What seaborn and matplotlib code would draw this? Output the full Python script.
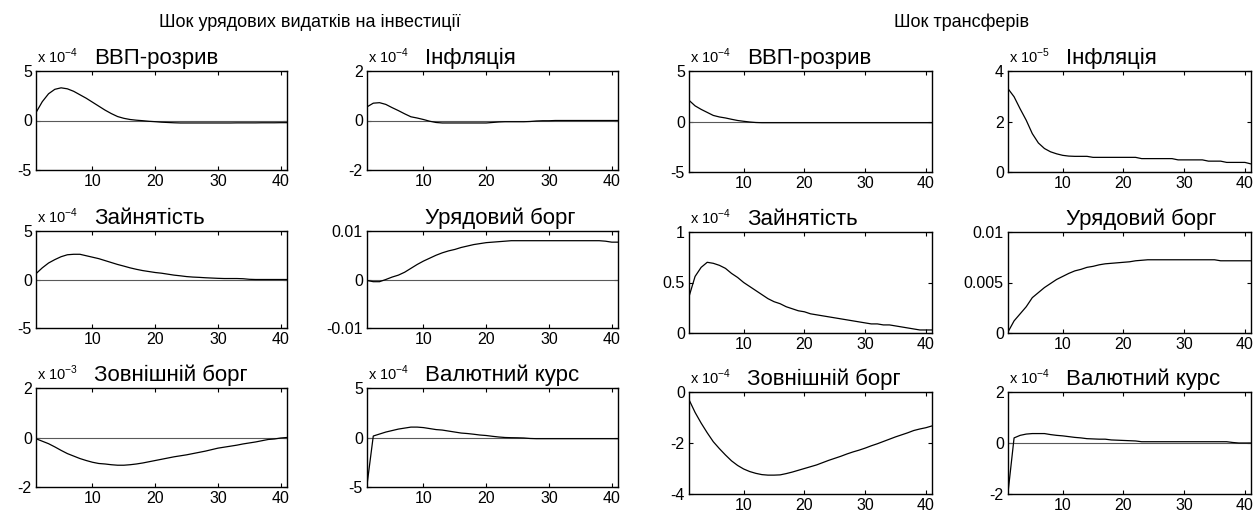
import pandas as pd
import seaborn as sns
import matplotlib.pyplot as plt

periods = list(range(1, 42))

# Шок урядових видатків на інвестиції
gdp_inv = [0.8, 1.9, 2.7, 3.15, 3.3, 3.2, 2.95, 2.6, 2.25, 1.85,
           1.45, 1.05, 0.7, 0.4, 0.22, 0.1, 0.03, -0.02, -0.08, -0.12,
           -0.17, -0.2, -0.23, -0.25, -0.25, -0.25, -0.25, -0.25, -0.25, -0.25,
           -0.25, -0.25, -0.24, -0.24, -0.24, -0.24, -0.23, -0.23, -0.23, -0.22, -0.22]
inf_inv = [0.55, 0.7, 0.72, 0.65, 0.52, 0.4, 0.27, 0.15, 0.1, 0.04,
           -0.03, -0.08, -0.1, -0.1, -0.1, -0.1, -0.1, -0.1, -0.1, -0.1,
           -0.08, -0.06, -0.05, -0.05, -0.05, -0.05, -0.04, -0.02, -0.01, -0.01,
           0, 0, 0, 0, 0, 0, 0, 0, 0, 0, 0]
emp_inv = [0.6, 1.2, 1.7, 2.05, 2.35, 2.55, 2.6, 2.6, 2.45, 2.3,
           2.15, 1.95, 1.75, 1.55, 1.38, 1.2, 1.05, 0.92, 0.82, 0.72,
           0.65, 0.55, 0.45, 0.38, 0.3, 0.25, 0.22, 0.18, 0.15, 0.12,
           0.1, 0.1, 0.1, 0.08, 0.02, 0, 0, 0, 0, 0, 0]
debt_inv = [-0.0002, -0.00045, -0.00045, 0.0, 0.0005, 0.0009, 0.0015, 0.0023, 0.0031, 0.0038,
            0.0044, 0.005, 0.0055, 0.0059, 0.0062, 0.0066, 0.0069, 0.0072, 0.0074, 0.0076,
            0.0077, 0.0078, 0.0079] + [0.008] * 15 + [0.0079, 0.0077, 0.0077]
ext_inv = [-0.05, -0.15, -0.25, -0.38, -0.52, -0.65, -0.75, -0.85, -0.93, -1.0,
           -1.05, -1.07, -1.1, -1.12, -1.12, -1.1, -1.07, -1.03, -0.98, -0.93,
           -0.88, -0.83, -0.78, -0.74, -0.7, -0.65, -0.6, -0.55, -0.49, -0.43,
           -0.39, -0.35, -0.31, -0.26, -0.22, -0.18, -0.13, -0.08, -0.06, -0.02, 0.0]
fx_inv = [-4.8, 0.15, 0.35, 0.55, 0.7, 0.85, 0.95, 1.05, 1.05, 1.0,
          0.9, 0.8, 0.75, 0.65, 0.55, 0.45, 0.4, 0.33, 0.25, 0.2,
          0.12, 0.05, 0.0, -0.02, -0.03, -0.05, -0.1, -0.12, -0.12, -0.12] + [-0.12] * 11

# Шок трансферів
gdp_tr = [2.1, 1.55, 1.2, 0.9, 0.6, 0.45, 0.35, 0.22, 0.1, 0.02, -0.05, -0.1] + [-0.12] * 29
inf_tr = ([3.3, 2.98, 2.5, 2.05, 1.52, 1.15, 0.93, 0.8, 0.72, 0.66, 0.63, 0.62, 0.62, 0.62]
          + [0.58] * 8 + [0.53] * 6 + [0.48] * 5 + [0.43] * 3 + [0.38] * 4 + [0.32])
emp_tr = [0.36, 0.56, 0.65, 0.70, 0.69, 0.67, 0.64, 0.59, 0.55, 0.50,
          0.46, 0.42, 0.38, 0.34, 0.31, 0.29, 0.26, 0.24, 0.22, 0.21,
          0.19, 0.18, 0.17, 0.16, 0.15, 0.14, 0.13, 0.12, 0.11, 0.10,
          0.09, 0.09, 0.08, 0.08, 0.07, 0.06, 0.05, 0.04, 0.03, 0.03, 0.03]
debt_tr = ([0.0001, 0.0012, 0.0019, 0.0026, 0.0035, 0.004, 0.0045, 0.0049, 0.0053, 0.0056,
            0.0059, 0.00615, 0.0063, 0.0065, 0.0066, 0.00675, 0.00685, 0.0069, 0.00695, 0.007,
            0.00705, 0.00715, 0.0072] + [0.00725] * 12 + [0.00715] * 6)
ext_tr = [-0.3, -0.8, -1.22, -1.6, -1.95, -2.22, -2.47, -2.7, -2.88, -3.02,
          -3.12, -3.19, -3.24, -3.26, -3.26, -3.25, -3.2, -3.14, -3.07, -3.0,
          -2.93, -2.86, -2.77, -2.68, -2.6, -2.52, -2.43, -2.35, -2.28, -2.2,
          -2.11, -2.03, -1.94, -1.85, -1.76, -1.68, -1.6, -1.51, -1.45, -1.4, -1.33]
fx_tr = ([-1.95, 0.2, 0.3, 0.35, 0.37, 0.37, 0.37, 0.33, 0.3, 0.28,
          0.25, 0.22, 0.2, 0.17, 0.16, 0.15, 0.15, 0.12, 0.11, 0.1,
          0.09, 0.08, 0.05] + [0.05] * 14 + [0.02, 0, 0, 0])

shock_titles = ['Шок урядових видатків на інвестиції', 'Шок трансферів']

# (values, title, exponent, y ticks)
panels = [
    (gdp_inv, 'ВВП-розрив', '-4', [-5, 0, 5]),
    (inf_inv, 'Інфляція', '-4', [-2, 0, 2]),
    (emp_inv, 'Зайнятість', '-4', [-5, 0, 5]),
    (debt_inv, 'Урядовий борг', None, [-0.01, 0, 0.01]),
    (ext_inv, 'Зовнішній борг', '-3', [-2, 0, 2]),
    (fx_inv, 'Валютний курс', '-4', [-5, 0, 5]),
    (gdp_tr, 'ВВП-розрив', '-4', [-5, 0, 5]),
    (inf_tr, 'Інфляція', '-5', [0, 2, 4]),
    (emp_tr, 'Зайнятість', '-4', [0, 0.5, 1]),
    (debt_tr, 'Урядовий борг', None, [0, 0.005, 0.01]),
    (ext_tr, 'Зовнішній борг', '-4', [-4, -2, 0]),
    (fx_tr, 'Валютний курс', '-4', [-2, 0, 2]),
]

# axes boxes in pixels: (left, right, top, bottom)
W, H = 1254, 512
boxes = [
    (36, 287, 71, 170), (367, 618, 71, 170),
    (36, 287, 231, 328), (367, 618, 231, 328),
    (36, 287, 388, 487), (367, 618, 388, 487),
    (689, 932, 71, 172), (1008, 1251, 71, 172),
    (689, 932, 232, 333), (1008, 1251, 232, 333),
    (689, 932, 392, 494), (1008, 1251, 392, 494),
]

sns.set_style('ticks')
plt.rcParams['font.family'] = ['Liberation Sans', 'DejaVu Sans']
plt.rcParams['mathtext.fontset'] = 'custom'
plt.rcParams['mathtext.rm'] = 'Liberation Sans'
plt.rcParams['axes.unicode_minus'] = False
plt.rcParams['text.color'] = 'black'

fig = plt.figure(figsize=(W / 100, H / 100), dpi=100)

for (vals, title, expo, yt), (x0, x1, y0, y1) in zip(panels, boxes):
    ax = fig.add_axes([x0 / W, 1 - y1 / H, (x1 - x0) / W, (y1 - y0) / H])
    df = pd.DataFrame({'period': periods, 'value': vals})
    ax.axhline(0, color='0.35', lw=0.8, zorder=1)
    sns.lineplot(data=df, x='period', y='value', ax=ax, color='black', lw=0.9, zorder=2)
    ax.set_xlim(1, 41)
    ax.set_ylim(yt[0], yt[-1])
    ax.set_xticks([10, 20, 30, 40])
    ax.set_yticks(yt)
    ax.set_yticklabels(['%g' % v for v in yt])
    ax.set_xlabel('')
    ax.set_ylabel('')
    ax.tick_params(direction='in', length=3, width=0.8, labelsize=11.5,
                   top=True, right=True, pad=3, colors='black')
    for sp in ax.spines.values():
        sp.set_linewidth(1.0)
        sp.set_color('black')
    ax.annotate(title, xy=(0, 1), xycoords='axes fraction', xytext=(42, 5),
                textcoords='offset points', ha='left', va='baseline', fontsize=16)
    if expo:
        ax.annotate('x 10$^{%s}$' % expo, xy=(0, 1), xycoords='axes fraction',
                    xytext=(1, 6), textcoords='offset points', ha='left',
                    va='baseline', fontsize=10.5)

fig.text(310 / W, 1 - 27 / H, shock_titles[0], ha='center', va='baseline', fontsize=13)
fig.text(962 / W, 1 - 27 / H, shock_titles[1], ha='center', va='baseline', fontsize=13)

fig.savefig('out.png', dpi=100, facecolor='white')
